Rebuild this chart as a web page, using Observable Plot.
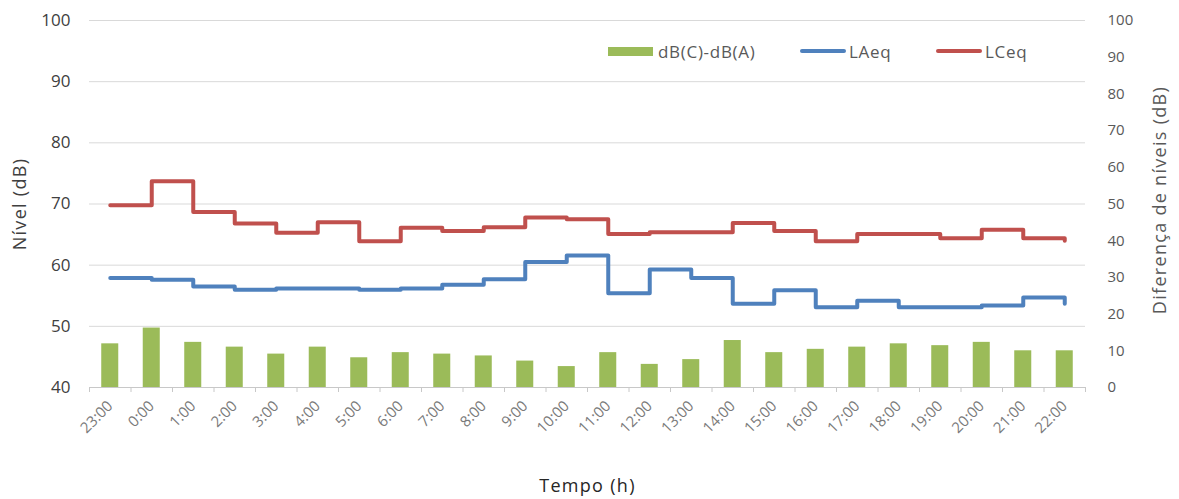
<!DOCTYPE html>
<html><head><meta charset="utf-8">
<script src="https://cdn.jsdelivr.net/npm/d3@7"></script>
<script src="https://cdn.jsdelivr.net/npm/@observablehq/plot@0.6"></script>
<style>
body{margin:0;background:#fff;font-family:"Open Sans",sans-serif;}
#wrap{position:relative;width:1179px;height:499px;}
#legend{position:absolute;left:0;top:39px;width:1179px;height:24px;font-size:17px;letter-spacing:0.7px;color:#595959;}
.item{position:absolute;top:0;display:flex;align-items:center;gap:5px;height:24px;}
.sw{display:inline-block;}
</style></head><body><div id="wrap"><div id="legend"></div></div>
<script>
const hours = ["23:00","0:00","1:00","2:00","3:00","4:00","5:00","6:00","7:00","8:00","9:00","10:00","11:00","12:00","13:00","14:00","15:00","16:00","17:00","18:00","19:00","20:00","21:00","22:00"];
const diffLevels = [11.9,16.2,12.3,11.0,9.1,11.0,8.1,9.5,9.1,8.6,7.2,5.7,9.5,6.3,7.6,12.8,9.5,10.4,11.0,11.9,11.4,12.3,10.0,10.0];
const laeq = [57.9,57.6,56.5,56.0,56.2,56.2,56.0,56.2,56.8,57.7,60.5,61.6,55.4,59.3,57.9,53.7,55.9,53.1,54.2,53.1,53.1,53.4,54.7,53.7];
const lceq = [69.8,73.7,68.7,66.8,65.3,67.0,63.9,66.1,65.6,66.2,67.8,67.5,65.1,65.4,65.4,66.9,65.6,63.9,65.1,65.1,64.4,65.8,64.4,64.0];
const leftTicks = [40,50,60,70,80,90,100];
const rightTicks = [0,10,20,30,40,50,60,70,80,90,100];
const seriesNames = ["dB(C)-dB(A)","LAeq","LCeq"];
const colors = ["#9bbb59","#4f81bd","#c0504d"];
const textColor = "#595959";

// map right-axis values (0..100) onto left scale (40..100)
const toLeft = v => 40 + v * 0.6;
const fromLeft = y => Math.round((y - 40) / 0.6);
const idx = hours.map((h, i) => i);

const chart = Plot.plot({
  width: 1179,
  height: 499,
  marginLeft: 89,
  marginRight: 94,
  marginTop: 20,
  marginBottom: 112,
  style: {fontFamily: "'Open Sans', sans-serif", color: textColor, background: "transparent"},
  x: {type: "linear", domain: [-0.5, hours.length - 0.5]},
  y: {domain: [40, 100]},
  marks: [
    Plot.gridY({ticks: leftTicks.slice(1), stroke: "#d9d9d9", strokeOpacity: 1}),
    Plot.rectY(idx, {x1: i => i - 0.205, x2: i => i + 0.205, y1: () => 40, y2: i => toLeft(diffLevels[i]), fill: colors[0]}),
    Plot.ruleY([40], {stroke: "#c8c8c8"}),
    Plot.axisX({ticks: d3.range(hours.length + 1).map(i => i - 0.5), tickFormat: () => "", tickSize: 5, stroke: "#c8c8c8"}),
    Plot.axisX({ticks: idx, tickFormat: i => hours[i], tickSize: 0, tickPadding: 16, tickRotate: -45, fontSize: 15, fill: "#7a7a7a", label: null}),
    Plot.axisY({ticks: leftTicks, tickSize: 0, tickPadding: 19, fontSize: 17, fill: "#404040", label: null}),
    Plot.axisY({anchor: "right", ticks: rightTicks.map(toLeft), tickFormat: fromLeft, tickSize: 0, tickPadding: 22, fontSize: 15, label: null}),
    Plot.line(idx, {x: i => i, y: i => laeq[i], curve: "step-after", stroke: colors[1], strokeWidth: 4, strokeLinejoin: "round", strokeLinecap: "round"}),
    Plot.line(idx, {x: i => i, y: i => lceq[i], curve: "step-after", stroke: colors[2], strokeWidth: 4, strokeLinejoin: "round", strokeLinecap: "round"}),
    Plot.text(["Nível (dB)"], {frameAnchor: "left", dx: -69, rotate: -90, textAnchor: "middle", fontSize: 18, fill: "#404040"}),
    Plot.text(["Diferença de níveis (dB)"], {frameAnchor: "right", dx: 75, dy: -4, rotate: -90, textAnchor: "middle", fontSize: 18, fill: textColor}),
    Plot.text(["Tempo (h)"], {frameAnchor: "bottom", dy: 104, textAnchor: "middle", fontSize: 18, fill: "#262626"})
  ]
});
// letter spacing for axis titles
chart.querySelectorAll("text").forEach(t => {
  const s = t.textContent;
  if (s === "Nível (dB)" || s === "Diferença de níveis (dB)" || s === "Tempo (h)") t.setAttribute("letter-spacing", "1.3");
});
document.getElementById("wrap").appendChild(chart);

const legendX = [608, 800, 936];
const legend = document.getElementById("legend");
seriesNames.forEach((name, k) => {
  const item = document.createElement("div");
  item.className = "item";
  item.style.left = legendX[k] + "px";
  const sw = document.createElement("span");
  sw.className = "sw";
  sw.style.background = colors[k];
  if (k === 0) { sw.style.width = "45px"; sw.style.height = "9px"; }
  else { sw.style.width = "46px"; sw.style.height = "4px"; sw.style.borderRadius = "2px"; item.style.gap = "3px"; }
  const t = document.createElement("span");
  t.textContent = name;
  item.appendChild(sw); item.appendChild(t);
  legend.appendChild(item);
});
</script>
</body></html>
